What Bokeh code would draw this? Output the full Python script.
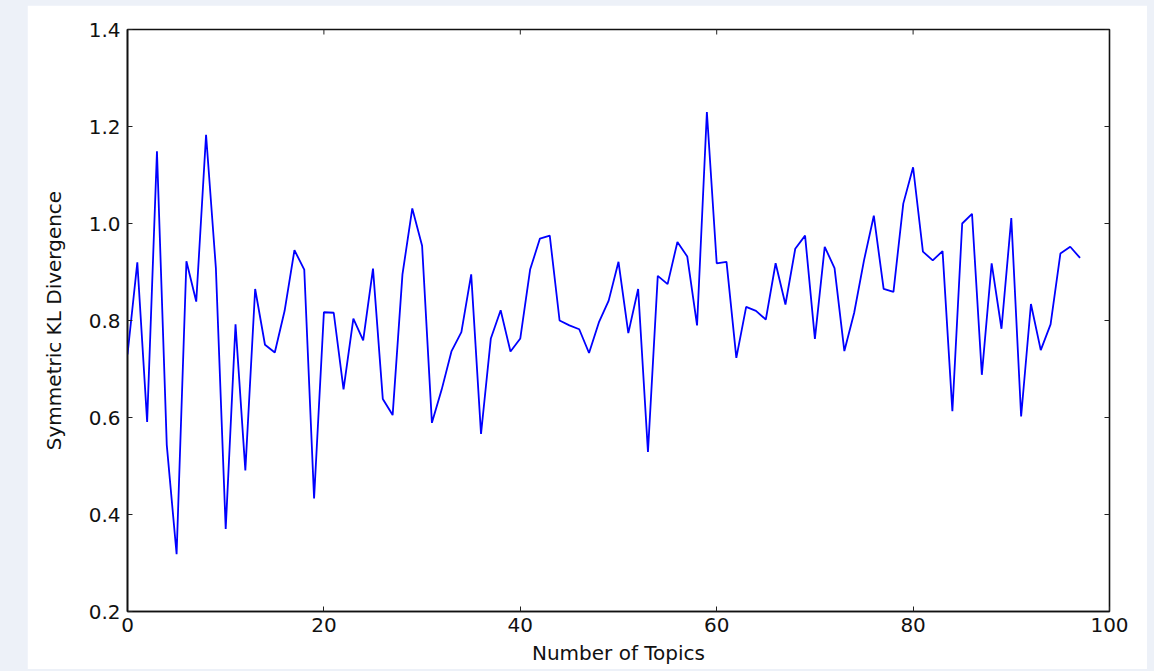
import math
from bokeh.plotting import figure
from bokeh.models import FixedTicker, PrintfTickFormatter, Range1d
from bokeh.embed import file_html
from bokeh.resources import INLINE

# Data
topics = list(range(98))
kl_divergence = [
    0.73, 0.92, 0.591, 1.149, 0.543, 0.318, 0.922, 0.839, 1.183, 0.908,
    0.370, 0.792, 0.491, 0.865, 0.750, 0.734, 0.820, 0.945, 0.905, 0.433,
    0.817, 0.816, 0.658, 0.804, 0.759, 0.907, 0.638, 0.605, 0.895, 1.031,
    0.954, 0.589, 0.658, 0.737, 0.776, 0.895, 0.566, 0.763, 0.821, 0.736,
    0.763, 0.905, 0.969, 0.975, 0.800, 0.790, 0.782, 0.733, 0.796, 0.841,
    0.921, 0.774, 0.865, 0.529, 0.892, 0.875, 0.962, 0.932, 0.790, 1.230,
    0.918, 0.921, 0.723, 0.828, 0.820, 0.802, 0.918, 0.833, 0.948, 0.975,
    0.762, 0.952, 0.908, 0.737, 0.816, 0.924, 1.016, 0.865, 0.859, 1.041,
    1.116, 0.942, 0.924, 0.943, 0.613, 1.000, 1.020, 0.688, 0.918, 0.783,
    1.011, 0.602, 0.834, 0.739, 0.792, 0.938, 0.952, 0.929,
]
x_ticks = [0, 20, 40, 60, 80, 100]
y_ticks = [0.2, 0.4, 0.6, 0.8, 1.0, 1.2, 1.4]
x_min, x_max = 0, 100
y_min, y_max = 0.2, 1.4

FONT = "DejaVu Sans"

p = figure(
    width=1120, height=664,
    output_backend="svg", toolbar_location=None,
    x_range=Range1d(x_min, x_max), y_range=Range1d(y_min, y_max),
    min_border_left=100, min_border_right=38,
    min_border_top=24, min_border_bottom=58,
    background_fill_color="white", border_fill_color="white",
)
p.grid.visible = False
p.outline_line_color = "#111111"
p.outline_line_width = 1.6

p.line(topics, kl_divergence, line_color="#0000ff", line_width=1.8)

# inward ticks on the top and right edges (clipped to the frame, so only the inner half shows)
p.scatter(x_ticks, [y_max] * len(x_ticks), marker="dash", angle=math.pi / 2,
          size=10, line_color="#222222", line_width=1)
p.scatter([x_max] * len(y_ticks), y_ticks, marker="dash", angle=0,
          size=10, line_color="#222222", line_width=1)

xa = p.xaxis[0]
ya = p.yaxis[0]
xa.ticker = FixedTicker(ticks=x_ticks)
ya.ticker = FixedTicker(ticks=y_ticks)
ya.formatter = PrintfTickFormatter(format="%.1f")
for ax in (xa, ya):
    ax.axis_line_color = "#111111"
    ax.axis_line_width = 1.6
    ax.major_tick_in = 5
    ax.major_tick_out = 0
    ax.major_tick_line_color = "#222222"
    ax.major_tick_line_width = 1
    ax.minor_tick_line_color = None
    ax.major_label_text_font = FONT
    ax.major_label_text_color = "#111111"
    ax.major_label_text_font_size = "20px"
    ax.axis_label_text_font = FONT
    ax.axis_label_text_font_style = "normal"
    ax.axis_label_text_font_size = "20px"
    ax.axis_label_text_color = "#111111"
xa.major_label_standoff = 6
ya.major_label_standoff = 7
xa.axis_label = "Number of Topics"
ya.axis_label = "Symmetric KL Divergence"
xa.axis_label_standoff = 6
ya.axis_label_standoff = 20

html = file_html(p, INLINE)
css = ("<style>html{background:#edf1f8;} body{margin:0; padding:5px 0 0 27px;"
       " background:#edf1f8; overflow:hidden;}</style>")
html = html.replace("</head>", css + "</head>", 1)
open("out.html", "w").write(html)
